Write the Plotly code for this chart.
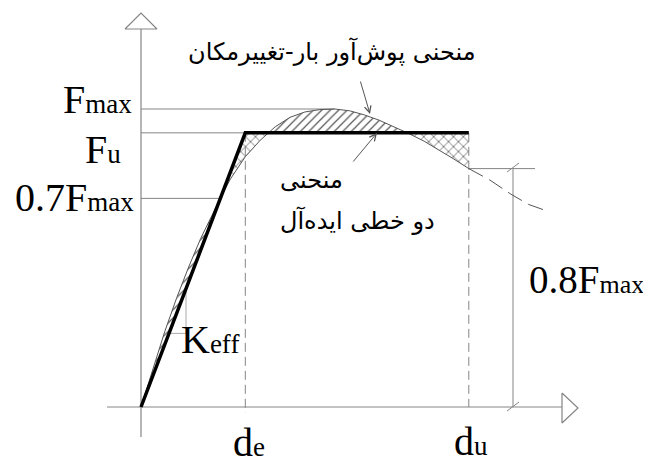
import plotly.graph_objects as go
import numpy as np

# Kapazitaetskurve (pushover) und idealisierte bilineare Kurve, Kraft in Einheiten von Fmax
disp = [0, 0.04, 0.08, 0.12, 0.16, 0.20, 0.24, 0.266, 0.30, 0.35, 0.40, 0.45, 0.50,
        0.55, 0.60, 0.65, 0.70, 0.75, 0.80, 0.85, 0.90, 0.95, 1.00, 1.05, 1.10]
force = [0, 0.131, 0.254, 0.367, 0.47, 0.565, 0.65, 0.70, 0.765, 0.84, 0.895, 0.94, 0.972,
         0.99, 0.998, 1.0, 0.994, 0.98, 0.962, 0.94, 0.917, 0.892, 0.863, 0.832, 0.80]
tail_disp = [1.10, 1.17, 1.24, 1.30, 1.37]
tail_force = [0.80, 0.762, 0.715, 0.680, 0.655]

F_max = 1.0
F_u = 0.92
d_e = 0.35
d_u = 1.10
bil_disp = [0, d_e, d_u]
bil_force = [0, F_u, F_u]

# Pixel -> Daten (Ursprung bei 141/407, 298 px pro Einheit)
def X(px):
    return (px - 141) / 298

def Y(py):
    return (407 - py) / 298

# Seite hat 8px Rand um die Figur
PAD = 8

d = np.array(disp)
f = np.array(force)
ipk = int(np.argmax(f))
x07 = float(np.interp(0.7 * F_max, f[:ipk + 1], d[:ipk + 1]))
xa = float(np.interp(F_u, f[:ipk + 1], d[:ipk + 1]))
xb = float(np.interp(F_u, f[ipk:][::-1], d[ipk:][::-1]))

GRAY = "#858585"
HATCH = "#555555"

fig = go.Figure()

def hatch(xs, ys, shape, size):
    fig.add_trace(go.Scatter(x=xs, y=ys, mode="lines", fill="toself",
                             line=dict(width=0, color="rgba(0,0,0,0)"),
                             fillcolor="rgba(0,0,0,0)",
                             fillpattern=dict(shape=shape, size=size, solidity=0.2,
                                              fgcolor=HATCH, bgcolor="rgba(0,0,0,0)",
                                              fillmode="replace"),
                             hoverinfo="skip", showlegend=False))

# A: Kurve ueber dem ersten Ast
m = d <= x07
hatch(list(d[m]) + [x07, 0], list(f[m]) + [0.7 * F_max, 0], "/", 6)
# B: Ecke bei de
m = (d > x07) & (d < xa)
hatch([x07, d_e, xa] + list(d[m][::-1]) + [x07],
      [0.7 * F_max, F_u, F_u] + list(f[m][::-1]) + [0.7 * F_max], "x", 7)
# C: Kurve ueber Fu
m = (d > xa) & (d < xb)
hatch([xa] + list(d[m]) + [xb, xa], [F_u] + list(f[m]) + [F_u, F_u], "/", 6)
# D: Ende bei du
m = (d > xb) & (d < d_u)
hatch([xb, d_u, d_u] + list(d[m][::-1]) + [xb],
      [F_u, F_u, force[-1]] + list(f[m][::-1]) + [F_u], "x", 7)

def seg(xs, ys, color=GRAY, width=1, dash="solid"):
    fig.add_trace(go.Scatter(x=xs, y=ys, mode="lines",
                             line=dict(color=color, width=width, dash=dash),
                             hoverinfo="skip", showlegend=False))

# Achsen
seg([X(141), X(141)], [Y(437), Y(29)], width=1.2)
seg([X(107), X(562)], [0, 0], width=1.2)

# Hilfslinien
seg([0, disp[ipk]], [F_max, F_max])
seg([0, d_u], [F_u, F_u])
seg([0, x07], [0.7 * F_max, 0.7 * F_max])
seg([d_e, d_e], [F_u, Y(413)], dash="9px,5px")
seg([d_u, d_u], [F_u, 0], dash="9px,5px")

# Bemassung 0.8Fmax
seg([d_u, X(535)], [0.8 * F_max, 0.8 * F_max])
seg([X(513), X(513)], [0.8 * F_max, 0])
seg([X(507), X(519)], [Y(172), Y(163)])
seg([X(507), X(519)], [Y(411), Y(402)])

# Keff Steigungsdreieck
k = F_u / d_e
seg([X(169), X(186), X(186)], [k * X(169), k * X(169), k * X(186)], color="#aaaaaa")

# Kurven
seg(disp, force, color="#555555", width=1)
seg(tail_disp, tail_force, color="#555555", width=1, dash="16px,7px")
seg(bil_disp, bil_force, color="black", width=3.5)

# Pfeilspitzen der Achsen
fig.add_trace(go.Scatter(x=[X(125), X(157), X(141), X(125)], y=[Y(29), Y(29), Y(13), Y(29)],
                         mode="lines", fill="toself", fillcolor="white",
                         line=dict(color=GRAY, width=1.2), hoverinfo="skip", showlegend=False))
fig.add_trace(go.Scatter(x=[X(562), X(562), X(578), X(562)], y=[Y(393), Y(423), Y(408), Y(393)],
                         mode="lines", fill="toself", fillcolor="white",
                         line=dict(color=GRAY, width=1.2), hoverinfo="skip", showlegend=False))

SERIF = "Liberation Serif"
SUB = '<span style="font-size:27px">%s</span>'

def label(px, py, text, xanchor="center", size=40, family=SERIF):
    fig.add_annotation(x=X(px), y=Y(py), text=text, showarrow=False, xanchor=xanchor,
                       yanchor="middle", font=dict(family=family, size=size, color="black"))

label(134, 99, "F" + SUB % "max", xanchor="right")
label(123, 149, "F" + SUB % "u", xanchor="right")
label(136, 197, "0.7F" + SUB % "max", xanchor="right")
label(179, 339, "K" + SUB % "eff", xanchor="left")
label(231, 442, "d" + SUB % "e", xanchor="left")
label(452, 441, "d" + SUB % "u", xanchor="left")
label(527, 279, "0.8F" + '<span style="font-size:26px">max</span>', xanchor="left", size=39)

FA = "DejaVu Sans"
label(332, 51, "منحنی پوش‌آور بار-تغییرمکان", size=24, family=FA)
label(278, 180, "منحنی", xanchor="left", size=24, family=FA)
label(278, 220, "دو خطی ایده‌آل", xanchor="left", size=24, family=FA)

# Zeigerpfeile
fig.add_annotation(x=X(370), y=Y(114), ax=-10, ay=-34, text="", showarrow=True,
                   arrowhead=5, arrowsize=1.3, arrowwidth=1, arrowcolor="#555555")
fig.add_annotation(x=X(377), y=Y(133), ax=-25, ay=30, text="", showarrow=True,
                   arrowhead=5, arrowsize=1.3, arrowwidth=1, arrowcolor="#555555")

fig.update_layout(width=651 - PAD, height=465 - PAD, margin=dict(l=0, r=0, t=0, b=0),
                  paper_bgcolor="white", plot_bgcolor="white", showlegend=False)
fig.update_xaxes(visible=False, range=[X(PAD), X(651)], fixedrange=True)
fig.update_yaxes(visible=False, range=[Y(465), Y(PAD)], fixedrange=True)

fig.write_html("out.html")
